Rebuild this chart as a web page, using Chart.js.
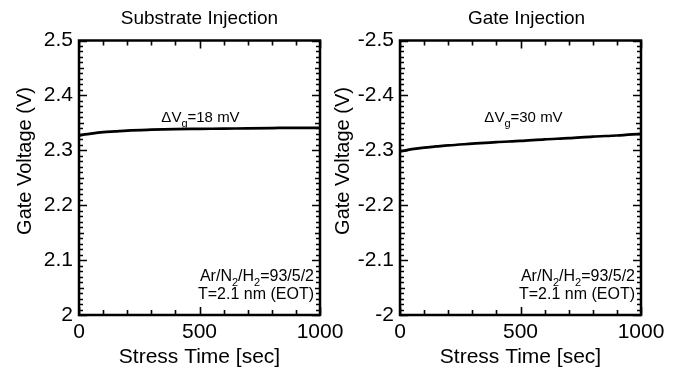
<!DOCTYPE html>
<html>
<head>
<meta charset="utf-8">
<script src="https://cdn.jsdelivr.net/npm/chart.js@4.4.0/dist/chart.umd.min.js"></script>
<style>
  html, body { margin: 0; padding: 0; background: #fff; }
  #wrap { position: relative; width: 674px; height: 376px; }
  #wrap canvas { position: absolute; left: 0; top: 0; }
</style>
</head>
<body>
<div id="wrap">
  <canvas id="subChart" width="674" height="376"></canvas>
  <canvas id="gateChart" width="674" height="376"></canvas>
</div>
<script>
// Stress time samples (s) and measured gate voltage (V)
const stressTime = [0, 25, 50, 100, 150, 200, 300, 400, 500, 600, 700, 800, 900, 1000];
const substrateVg = [2.327, 2.329, 2.3305, 2.333, 2.3345, 2.336, 2.3375, 2.3385, 2.339, 2.3395, 2.340, 2.3405, 2.341, 2.341];
const gateVg = [-2.298, -2.300, -2.302, -2.305, -2.307, -2.309, -2.312, -2.315, -2.317, -2.320, -2.322, -2.325, -2.327, -2.330];

// Axis tick labels
const timeTicks = [0, 500, 1000];
const substrateTicks = [2, 2.1, 2.2, 2.3, 2.4, 2.5];
const gateTicks = [-2.5, -2.4, -2.3, -2.2, -2.1, -2];

const FONT = '"Liberation Sans", Arial, Helvetica, sans-serif';

// Draws text runs with optional subscripts; align 'center' | 'right'
function drawRich(ctx, parts, x, y, size, align) {
  const subSize = Math.round(size * 0.7);
  let total = 0;
  parts.forEach(p => {
    ctx.font = (p.sub ? subSize : size) + 'px ' + FONT;
    p.w = ctx.measureText(p.t).width;
    total += p.w;
  });
  let cx = align === 'center' ? x - total / 2 : (align === 'right' ? x - total : x);
  ctx.textAlign = 'left';
  ctx.textBaseline = 'alphabetic';
  parts.forEach(p => {
    ctx.font = (p.sub ? subSize : size) + 'px ' + FONT;
    ctx.fillText(p.t, cx, p.sub ? y + size * 0.3 : y);
    cx += p.w;
  });
}

// Frame around the plot area plus inward minor/major tick marks on all four sides
const framePlugin = {
  id: 'frameTicks',
  afterDatasetsDraw(chart) {
    const { ctx, chartArea: a, scales: { x, y } } = chart;
    ctx.save();
    ctx.strokeStyle = '#000';
    ctx.lineWidth = 1.6;
    ctx.beginPath();
    const yMin = Math.min(y.min, y.max);
    for (let i = 0; i <= 50; i++) {
      const py = Math.round(y.getPixelForValue(yMin + i * 0.01)) + 0.5;
      const len = i % 10 === 0 ? 8 : (i % 5 === 0 ? 5 : 4);
      ctx.moveTo(a.left, py); ctx.lineTo(a.left + len, py);
      ctx.moveTo(a.right, py); ctx.lineTo(a.right - len, py);
    }
    for (let i = 0; i <= 10; i++) {
      const px = Math.round(x.getPixelForValue(i * 100)) + 0.5;
      const len = i % 5 === 0 ? 8 : 5;
      ctx.moveTo(px, a.bottom); ctx.lineTo(px, a.bottom - len);
      ctx.moveTo(px, a.top); ctx.lineTo(px, a.top + len);
    }
    ctx.stroke();
    ctx.lineWidth = 2.5;
    ctx.strokeRect(a.left, a.top, a.right - a.left, a.bottom - a.top);
    ctx.restore();
  }
};

// Panel heading, vertical axis title and in-plot notes
const notesPlugin = {
  id: 'notes',
  afterDraw(chart, args, opts) {
    const { ctx, chartArea: a } = chart;
    ctx.save();
    ctx.fillStyle = '#000';
    ctx.font = '19px ' + FONT;
    ctx.textAlign = 'center';
    ctx.textBaseline = 'middle';
    ctx.fillText(opts.heading, (a.left + a.right) / 2 + opts.headingShift, 19);

    ctx.save();
    ctx.translate(a.left - opts.titleGap, 161);
    ctx.rotate(-Math.PI / 2);
    ctx.font = '20px ' + FONT;
    ctx.fillText('Gate Voltage (V)', 0, 0);
    ctx.restore();

    drawRich(ctx, [{ t: 'ΔV' }, { t: 'g', sub: true }, { t: opts.delta }],
      (a.left + a.right) / 2 + opts.deltaShift, 122, 15, 'center');
    drawRich(ctx, [{ t: 'Ar/N' }, { t: '2', sub: true }, { t: '/H' }, { t: '2', sub: true }, { t: '=93/5/2' }],
      a.right - 6, 281, 16, 'right');
    drawRich(ctx, [{ t: 'T=2.1 nm (EOT)' }], a.right - 6, 299, 16, 'right');
    ctx.restore();
  }
};

function makePanel(id, values, yTicks, yMin, yMax, reverse, padLeft, padRight, notes) {
  new Chart(document.getElementById(id), {
    type: 'line',
    data: {
      datasets: [{
        data: stressTime.map((t, i) => ({ x: t, y: values[i] })),
        borderColor: '#000',
        borderWidth: 2.7,
        pointRadius: 0,
        tension: 0.4,
        cubicInterpolationMode: 'monotone',
        fill: false
      }]
    },
    options: {
      responsive: false,
      animation: false,
      events: [],
      layout: { padding: { left: padLeft, right: padRight, top: 40.5, bottom: 0 } },
      plugins: { legend: { display: false }, tooltip: { enabled: false }, notes },
      scales: {
        x: {
          type: 'linear',
          min: 0, max: 1000,
          afterBuildTicks: s => { s.ticks = timeTicks.map(v => ({ value: v })); },
          afterFit: s => { s.height = 61; },
          grid: { display: false, drawTicks: false },
          border: { display: false },
          ticks: { color: '#000', font: { family: FONT, size: 21 }, padding: 5, maxRotation: 0,
                   callback: v => String(v) },
          title: { display: true, text: 'Stress Time [sec]', color: '#000',
                   font: { family: FONT, size: 21 }, padding: { top: 0, bottom: 6 } }
        },
        y: {
          type: 'linear',
          min: yMin, max: yMax,
          reverse,
          afterBuildTicks: s => { s.ticks = yTicks.map(v => ({ value: v })); },
          afterFit: s => { s.width = 79; },
          grid: { display: false, drawTicks: false },
          border: { display: false },
          ticks: { color: '#000', font: { family: FONT, size: 21 }, padding: 6,
                   callback: v => String(+v.toFixed(1)) },
          title: { display: false }
        }
      }
    },
    plugins: [framePlugin, notesPlugin]
  });
}

makePanel('subChart', substrateVg, substrateTicks, 2, 2.5, false, 0, 354,
  { heading: 'Substrate Injection', headingShift: 0, delta: '=18 mV', deltaShift: 1, titleGap: 54 });
makePanel('gateChart', gateVg, gateTicks, -2.5, -2, true, 321, 33,
  { heading: 'Gate Injection', headingShift: 6, delta: '=30 mV', deltaShift: 3, titleGap: 57 });
</script>
</body>
</html>
